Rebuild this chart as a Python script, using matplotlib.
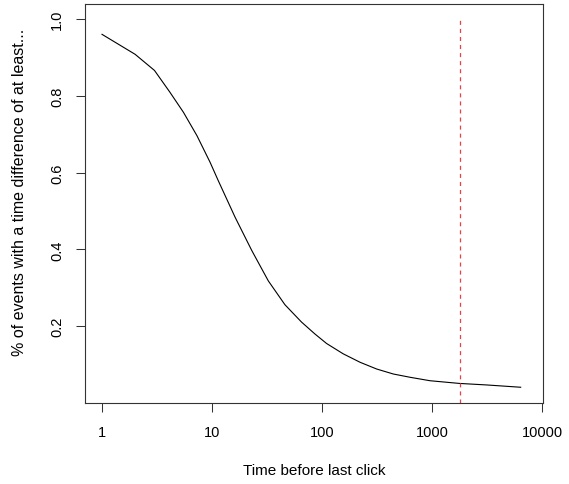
import matplotlib
matplotlib.use("Agg")
import matplotlib.pyplot as plt

# -------- data ---------------------------------
times = [1, 2, 3, 4.15, 5.5, 7.3, 9.6, 11.4, 16.2, 23, 32.5, 46, 65, 86,
         110, 156, 222, 314, 445, 631, 959, 1770, 3140, 6400]
share = [0.960, 0.908, 0.866, 0.809, 0.757, 0.696, 0.627, 0.579, 0.484,
         0.397, 0.318, 0.256, 0.211, 0.180, 0.155, 0.128, 0.106, 0.0885,
         0.0755, 0.067, 0.058, 0.051, 0.047, 0.041]
cutoff = 1800
x_ticks = [1, 10, 100, 1000, 10000]
y_ticks = [0.2, 0.4, 0.6, 0.8, 1.0]

plt.rcParams['font.family'] = ['Liberation Sans', 'DejaVu Sans']
plt.rcParams['lines.scale_dashes'] = False

fig = plt.figure(figsize=(5.69, 4.85), dpi=100)
ax = fig.add_axes([85/569, 1 - 404/485, 458/569, 399/485])

ax.plot(times, share, color="black", lw=0.8)
ax.plot([cutoff, cutoff], [0, 1], color="#e8404a", lw=0.9,
        linestyle=(0, (2.9, 2.9)))

ax.set_xscale("log")
ax.set_xlim(10 ** (-17/110), 10 ** (441/110))
ax.set_ylim(0.0, 1.039)

ax.set_xticks(x_ticks)
ax.set_xticklabels([str(t) for t in x_ticks])
ax.minorticks_off()
ax.set_yticks(y_ticks)
ax.set_yticklabels(["%.1f" % v for v in y_ticks], rotation=90, va="center")

ax.tick_params(axis="both", direction="out", length=6.5, width=0.75,
               labelsize=10.5, color="#333333")
ax.tick_params(axis="x", pad=9.5)
ax.tick_params(axis="y", pad=8.5)
for s in ax.spines.values():
    s.set_linewidth(0.8)
    s.set_color("#333333")

ax.set_xlabel("Time before last click", fontsize=11, va="center")
ax.xaxis.set_label_coords(0.5, (404 - 471) / 399)
ax.set_ylabel("% of events with a time difference of at least...",
              fontsize=11.5, va="center", ha="center")
ax.yaxis.set_label_coords((20 - 85) / 458, (404 - 192) / 399)

fig.savefig("out.png", dpi=100)
